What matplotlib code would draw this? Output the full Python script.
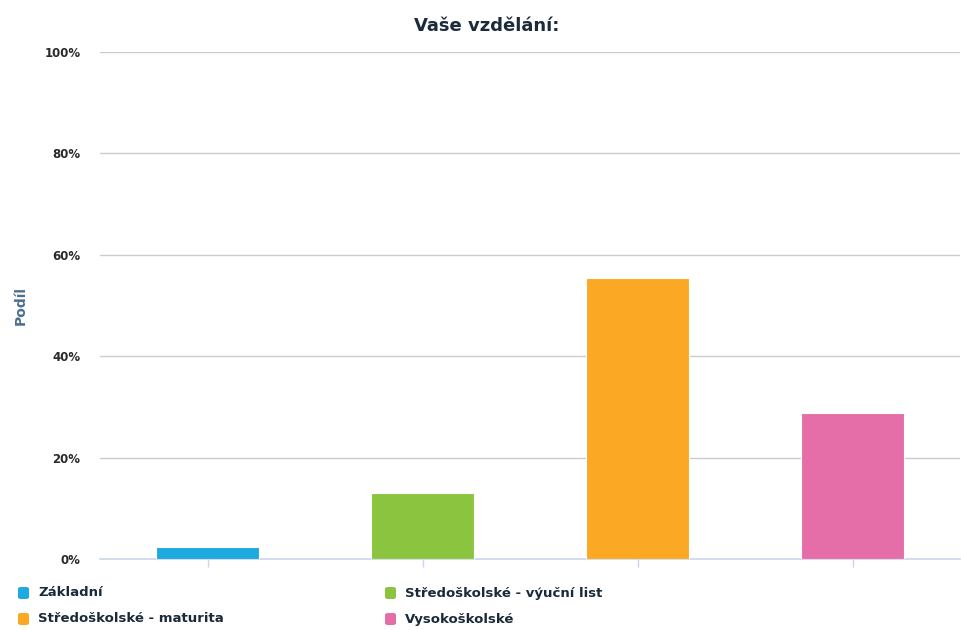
import matplotlib

matplotlib.use('Agg')

import matplotlib.pyplot as plt
from matplotlib.patches import FancyBboxPatch

# Data
categories = ['Základní', 'Středoškolské - výuční list', 'Středoškolské - maturita', 'Vysokoškolské']
shares = [2.4, 13.0, 55.4, 28.8]
colors = ['#1fa9e1', '#8bc53f', '#fba924', '#e56ea8']
y_ticks = [0, 20, 40, 60, 80, 100]
y_labels = ['0%', '20%', '40%', '60%', '80%', '100%']

plt.rcParams['font.family'] = ['DejaVu Sans']

fig = plt.figure(figsize=(9.62, 6.3), dpi=100)
ax = fig.add_axes([0.104, 0.1127, 0.894, 0.8048])

x = range(len(categories))
ax.bar(x, shares, width=0.48, color=colors, edgecolor='white', linewidth=0.8, zorder=3)

ax.set_xlim(-0.5, len(categories) - 0.5)
ax.set_ylim(0, 100)
ax.set_yticks(y_ticks)
ax.set_yticklabels(y_labels, fontsize=8.5, fontweight='bold', color='#2a2a2a')
ax.set_xticks(list(x))
ax.set_xticklabels([])
ax.tick_params(axis='y', length=0, pad=14)
ax.tick_params(axis='x', length=6, color='#ccd6eb', width=1)
ax.grid(axis='y', color='#cccccc', linewidth=1, zorder=0)

for side in ['top', 'right', 'left']:
	ax.spines[side].set_visible(False)
ax.spines['bottom'].set_color('#ccd6eb')
ax.spines['bottom'].set_linewidth(1.2)

ax.set_ylabel('Podíl', fontsize=10, fontweight='bold', color='#4d7090', labelpad=12)

fig.text(0.506, 0.959, 'Vaše vzdělání:', ha='center', va='center', fontsize=13,
	fontweight='bold', color='#1c2b3c')

# Legenda (po řádcích, dva sloupce)
col_x = [18, 385]
row_y = [593, 619]
for i, (label, color) in enumerate(zip(categories, colors)):
	px = col_x[i % 2]
	py = row_y[i // 2]
	box = FancyBboxPatch((px / 962, 1 - (py + 6) / 630), 11 / 962, 12 / 630,
		boxstyle='round,pad=0,rounding_size=0.003', transform=fig.transFigure,
		facecolor=color, edgecolor='none')
	fig.patches.append(box)
	fig.text((px + 20) / 962, 1 - py / 630, label, ha='left', va='center',
		fontsize=9.5, fontweight='bold', color='#1a2a3a')

fig.savefig('out.png', dpi=100)
